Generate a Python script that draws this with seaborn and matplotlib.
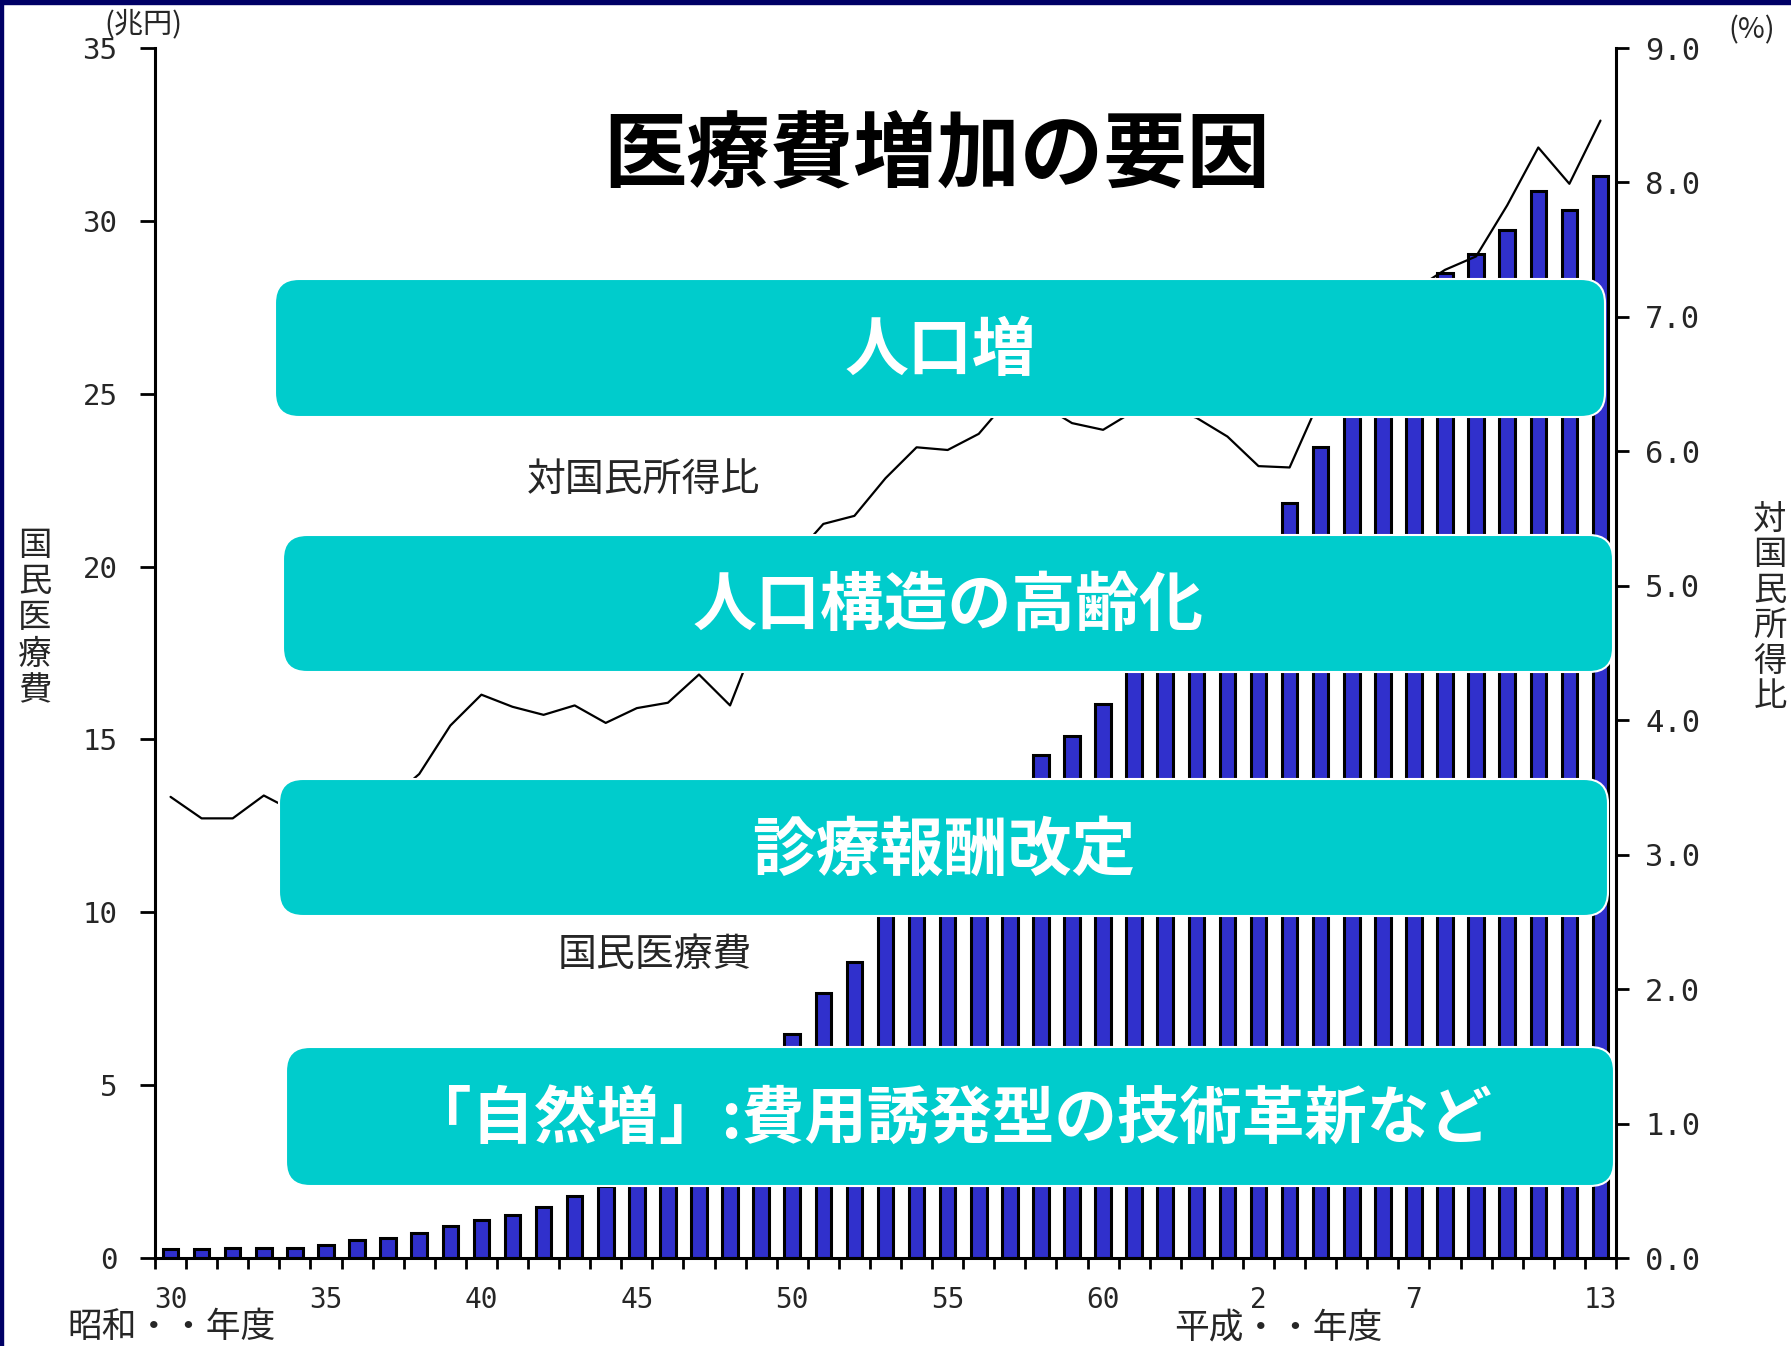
import numpy as np
import pandas as pd
import matplotlib
matplotlib.use("Agg")
import matplotlib.pyplot as plt
from matplotlib.patches import FancyBboxPatch, Rectangle
import seaborn as sns

# Fiscal years: Showa 30-63, Heisei 1-13
fiscal_years = [
    "S30", "S31", "S32", "S33", "S34", "S35", "S36", "S37", "S38", "S39",
    "S40", "S41", "S42", "S43", "S44", "S45", "S46", "S47", "S48", "S49",
    "S50", "S51", "S52", "S53", "S54", "S55", "S56", "S57", "S58", "S59",
    "S60", "S61", "S62", "S63", "H1", "H2", "H3", "H4", "H5", "H6",
    "H7", "H8", "H9", "H10", "H11", "H12", "H13",
]

# National medical expenditure (trillion yen)
medical_cost = [
    0.27, 0.27, 0.28, 0.29, 0.30, 0.38, 0.51, 0.58, 0.73, 0.94,
    1.10, 1.25, 1.47, 1.80, 2.08, 2.50, 2.73, 3.40, 3.95, 5.38,
    6.48, 7.67, 8.55, 10.00, 10.95, 11.98, 12.87, 13.75, 14.54, 15.09,
    16.02, 17.07, 18.08, 18.76, 19.73, 20.61, 21.83, 23.45, 24.36, 25.79,
    26.96, 28.50, 29.05, 29.75, 30.85, 30.30, 31.30,
]

# Ratio to national income (%)
income_ratio = [
    3.43, 3.27, 3.27, 3.44, 3.32, 3.10, 3.25, 3.40, 3.60, 3.96,
    4.19, 4.10, 4.04, 4.11, 3.98, 4.09, 4.13, 4.34, 4.11, 4.70,
    5.20, 5.46, 5.52, 5.80, 6.03, 6.01, 6.13, 6.40, 6.35, 6.21,
    6.16, 6.30, 6.32, 6.25, 6.11, 5.89, 5.88, 6.40, 6.75, 7.00,
    7.20, 7.35, 7.45, 7.83, 8.26, 7.99, 8.46,
]

label_years = ["S30", "S35", "S40", "S45", "S50", "S55", "S60", "H2", "H7", "H13"]
label_text = ["30", "35", "40", "45", "50", "55", "60", "2", "7", "13"]

left_ticks = [0, 5, 10, 15, 20, 25, 30, 35]
left_labels = ["0", "5", "10", "15", "20", "25", "30", "35"]
right_ticks = [0, 1, 2, 3, 4, 5, 6, 7, 8, 9]
right_labels = ["0.0", "1.0", "2.0", "3.0", "4.0", "5.0", "6.0", "7.0", "8.0", "9.0"]

factors = [
    "人口増",
    "人口構造の高齢化",
    "診療報酬改定",
    "「自然増」:費用誘発型の技術革新など",
]

df = pd.DataFrame({
    "year": fiscal_years,
    "pos": np.arange(len(fiscal_years)),
    "cost": medical_cost,
    "ratio": income_ratio,
})

sns.set_theme(style="white")
plt.rcParams["font.family"] = ["Noto Sans CJK JP", "DejaVu Sans"]

BAR = "#3030CC"
TEAL = "#00CCCC"
NUM_FONT = "DejaVu Sans Mono"
W, H = 1791, 1346

fig = plt.figure(figsize=(W / 100, H / 100), dpi=100)
fig.patch.set_facecolor("white")
ax = fig.add_axes([155 / W, 88 / H, (1616 - 155) / W, (1258 - 48) / H])
ax.set_facecolor("white")

sns.barplot(data=df, x="year", y="cost", order=fiscal_years, ax=ax,
            color=BAR, saturation=1, edgecolor="black", linewidth=2.2,
            width=0.5, errorbar=None)

ax2 = ax.twinx()
sns.lineplot(data=df, x="pos", y="ratio", ax=ax2, color="black",
             linewidth=1.6)

ax.set_xlim(-0.5, len(fiscal_years) - 0.5)
ax.set_ylim(0, 35)
ax2.set_ylim(0, 9)
ax.set_xlabel("")
ax.set_ylabel("")
ax2.set_ylabel("")
ax2.set_xlabel("")

# x axis: tick marks between bars, year labels under selected bars
ax.set_xticks(np.arange(-0.5, len(fiscal_years), 1.0))
ax.set_xticklabels([])
label_pos = [fiscal_years.index(y) for y in label_years]
ax.set_xticks(label_pos, minor=True)
ax.set_xticklabels(label_text, minor=True, fontfamily=NUM_FONT, fontsize=20)
ax.tick_params(axis="x", which="major", direction="out", length=8, width=2,
               color="black", bottom=True)
ax.tick_params(axis="x", which="minor", length=0, pad=20, bottom=True)

ax.set_yticks(left_ticks)
ax.set_yticklabels(left_labels, fontfamily=NUM_FONT, fontsize=21)
ax.tick_params(axis="y", direction="out", length=11, width=2, pad=16,
               color="black", left=True)

ax2.set_yticks(right_ticks)
ax2.set_yticklabels(right_labels, fontfamily=NUM_FONT, fontsize=22)
ax2.tick_params(axis="y", direction="out", length=9, width=2, pad=12,
                color="black", right=True)

for s in ["top", "right"]:
    ax.spines[s].set_visible(False)
for s in ["left", "bottom"]:
    ax.spines[s].set_color("black")
    ax.spines[s].set_linewidth(2.2)
for s in ["top", "left", "bottom"]:
    ax2.spines[s].set_visible(False)
ax2.spines["right"].set_color("black")
ax2.spines["right"].set_linewidth(2.2)
ax.grid(False)
ax2.grid(False)

# headings and axis captions
fig.text(0.523, 0.884, "医療費増加の要因", fontsize=60, fontweight="bold",
         ha="center", va="center", color="black")
fig.text(143 / W, 1 - 24 / H, "(兆円)", fontsize=21, ha="center", va="center")
fig.text(1752 / W, 1 - 30 / H, "(%)", fontsize=21, ha="center", va="center")
fig.text(35 / W, 1 - 618 / H, "\n".join("国民医療費"), fontsize=24,
         linespacing=1.05, ha="center", va="center")
fig.text(1770 / W, 1 - 608 / H, "\n".join("対国民所得比"), fontsize=24,
         linespacing=1.02, ha="center", va="center")
fig.text(643 / W, 1 - 480 / H, "対国民所得比", fontsize=28, ha="center",
         va="center")
fig.text(655 / W, 1 - 955 / H, "国民医療費", fontsize=28, ha="center",
         va="center")
fig.text(171 / W, 1 - 1328 / H, "昭和・・年度", fontsize=25, ha="center",
         va="center")
fig.text(1278 / W, 1 - 1328 / H, "平成・・年度", fontsize=25, ha="center",
         va="center")

# overlay in pixel units for the factor panels and the frame edge
ov = fig.add_axes([0, 0, 1, 1])
ov.set_xlim(0, W)
ov.set_ylim(H, 0)
ov.axis("off")
ov.patch.set_visible(False)
ov.set_zorder(10)

panels = [
    (275, 279, 1605, 417),
    (283, 535, 1613, 672),
    (279, 779, 1608, 916),
    (286, 1047, 1614, 1186),
]
sizes = [46, 46, 46, 45]
for (x0, y0, x1, y1), label, fs in zip(panels, factors, sizes):
    ov.add_patch(FancyBboxPatch((x0, y0), x1 - x0, y1 - y0,
                                boxstyle="round,pad=0,rounding_size=24",
                                facecolor=TEAL, edgecolor="white",
                                linewidth=1.5))
    ov.text((x0 + x1) / 2, (y0 + y1) / 2 + 3, label, color="white",
            fontsize=fs, fontweight="bold", ha="center", va="center")

ov.add_patch(Rectangle((0, 0), W, 4, color="#000066", clip_on=False))
ov.add_patch(Rectangle((0, 0), 3, H, color="#000066", clip_on=False))

fig.savefig("out.png", dpi=100, facecolor="white")
